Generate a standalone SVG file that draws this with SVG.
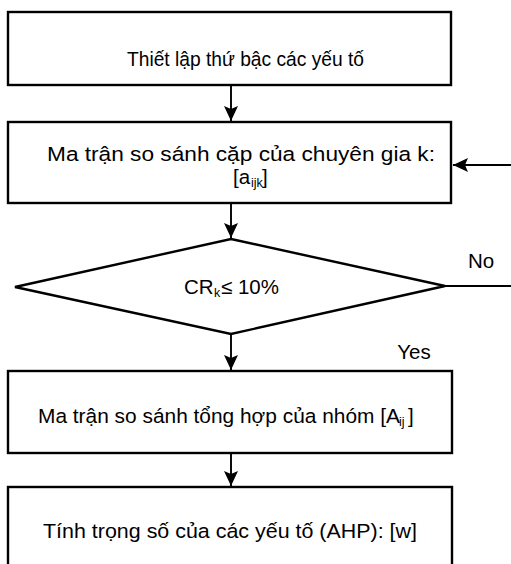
<svg xmlns="http://www.w3.org/2000/svg" width="511" height="564" viewBox="0 0 511 564">
<style>
.box{fill:#fff;stroke:#000;stroke-width:2.4}
.t{font-family:"Liberation Sans",Arial,sans-serif;font-size:20.5px;fill:#000}
.m{text-anchor:middle}
.s{font-family:"Liberation Sans",Arial,sans-serif;font-size:12.5px;fill:#000}
.c{stroke:#000;stroke-width:1.9;fill:none}
</style>
<defs>
<marker id="ah" markerUnits="userSpaceOnUse" markerWidth="16" markerHeight="14" refX="15" refY="7" orient="auto">
<path d="M0,0 L15,7 L0,14 L3,7 Z" fill="#000"/>
</marker>
</defs>
<rect width="511" height="564" fill="#fff"/>
<g id="n1"><rect class="box" x="8" y="12" width="443" height="73"/><text class="t" x="127" y="66" textLength="237" lengthAdjust="spacingAndGlyphs">Thiết lập thứ bậc các yếu tố</text></g>
<g id="n2"><rect class="box" x="8" y="122" width="443" height="81"/><text class="t" x="47" y="161" textLength="388" lengthAdjust="spacingAndGlyphs">Ma trận so sánh cặp của chuyên gia k:</text><text class="t" x="233" y="184">[a</text><text class="s" x="251" y="187">ijk</text><text class="t" x="262" y="184">]</text></g>
<g id="n3"><polygon class="box" points="231,239 445,286 231,334 15,287"/><text class="t" x="184" y="294">CR</text><text class="s" x="214" y="297">k</text><text class="t" x="221" y="294">≤ 10%</text></g>
<g id="n4"><rect class="box" x="8" y="371" width="444" height="82"/><text class="t" x="38" y="423" textLength="362" lengthAdjust="spacingAndGlyphs">Ma trận so sánh tổng hợp của nhóm [A</text><text class="s" x="399" y="426">ij</text><text class="t" x="408" y="423">]</text></g>
<g id="n5"><rect class="box" x="8" y="487" width="444" height="80"/><text class="t" x="43" y="538" textLength="374" lengthAdjust="spacingAndGlyphs">Tính trọng số của các yếu tố (AHP): [w]</text></g>
<g id="connectors">
<line class="c" x1="231" y1="85" x2="231" y2="121" marker-end="url(#ah)"/>
<line class="c" x1="231" y1="203" x2="231" y2="238" marker-end="url(#ah)"/>
<line class="c" x1="231" y1="334" x2="231" y2="370" marker-end="url(#ah)"/>
<line class="c" x1="231" y1="453" x2="231" y2="486" marker-end="url(#ah)"/>
<line class="c" x1="445" y1="286" x2="511" y2="286"/>
<line class="c" x1="511" y1="165" x2="453" y2="165" marker-end="url(#ah)"/>
</g>
<text class="t m" x="481" y="268">No</text>
<text class="t m" x="414" y="359">Yes</text>
</svg>
